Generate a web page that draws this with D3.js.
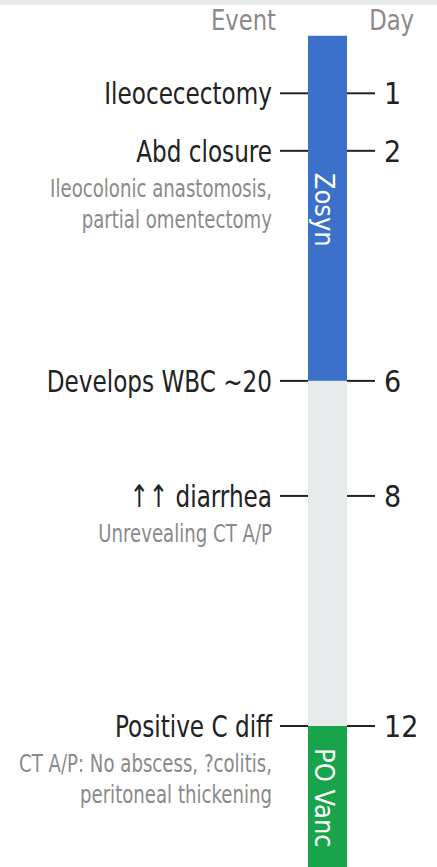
<!DOCTYPE html>
<html>
<head>
  <meta charset="utf-8">
  <script src="https://d3js.org/d3.v7.min.js"></script>
  <style>
    body { margin: 0; background: #fff; }
    svg { display: block; }
    text {
      font-family: "Liberation Sans Narrow", "DejaVu Sans Condensed", "Roboto", sans-serif;
    }
    .event { font-size: 31px; fill: #222; }
    .note  { font-size: 24px; fill: #8a8a8a; }
    .head  { font-size: 29px; fill: #8a8a8a; }
    .day   { font-size: 30px; fill: #222; }
    .tick  { stroke: #222; stroke-width: 2px; }
    .drug  { font-size: 27px; fill: #fff; }
  </style>
</head>
<body>
<div id="chart"></div>
<script>
// timeline data
var days = [1, 2, 6, 8, 12];
var events = ["Ileocecectomy", "Abd closure", "Develops WBC ~20", "\u2191\u2191 diarrhea", "Positive C diff"];
var notes = [
  [],
  ["Ileocolonic anastomosis,", "partial omentectomy"],
  [],
  ["Unrevealing CT A/P"],
  ["CT A/P: No abscess, ?colitis,", "peritoneal thickening"]
];

// treatment periods (day ranges)
var drugNames = ["Zosyn", "", "PO Vanc"];
var drugStart = [0, 6, 12];
var drugEnd   = [6, 12, 15];
var drugLabelDay = [2, null, 12];
var drugColors = ["#3b70cb", "#e8ebec", "#18a44b"];

var width = 437, height = 867;
var barX = 308, barW = 39;

// no narrow font installed, so squeeze text horizontally
function squeeze(x, yy, k) {
  return "translate(" + x + "," + yy + ") scale(" + k + ",1)";
}

var svg = d3.select("#chart").append("svg")
    .attr("width", width)
    .attr("height", height);

// thin band on top
svg.append("rect")
    .attr("x", 0).attr("y", 0)
    .attr("width", width).attr("height", 5)
    .attr("fill", "#e8ebec");

var y = d3.scaleLinear()
    .domain([1, 12])
    .range([93.3, 726]);

// headers
svg.append("text").attr("class", "head")
    .attr("transform", squeeze(276, 30, 0.87))
    .attr("text-anchor", "end")
    .text("Event");
svg.append("text").attr("class", "head")
    .attr("transform", squeeze(414, 30, 0.87))
    .attr("text-anchor", "end")
    .text("Day");

// treatment bar segments
svg.selectAll("rect.seg")
    .data(drugNames)
  .enter().append("rect")
    .attr("class", "seg")
    .attr("x", barX)
    .attr("width", barW)
    .attr("y", function(d, i) { return y(drugStart[i]); })
    .attr("height", function(d, i) { return y(drugEnd[i]) - y(drugStart[i]); })
    .attr("fill", function(d, i) { return drugColors[i]; });

// rotated drug labels
svg.selectAll("text.drug")
    .data(drugNames.filter(function(d) { return d; }))
  .enter().append("text")
    .attr("class", "drug")
    .attr("transform", function(d) {
      var i = drugNames.indexOf(d);
      return "translate(" + (barX + 7) + "," + (y(drugLabelDay[i]) + 22) + ") rotate(90)";
    })
    .text(function(d) { return d; });

// ticks + labels
var g = svg.selectAll("g.ev")
    .data(days)
  .enter().append("g")
    .attr("class", "ev")
    .attr("transform", function(d) { return "translate(0," + y(d) + ")"; });

g.append("line").attr("class", "tick")
    .attr("x1", 280).attr("x2", barX);
g.append("line").attr("class", "tick")
    .attr("x1", barX + barW).attr("x2", 375);

g.append("text").attr("class", "event")
    .attr("transform", squeeze(272, 0, 0.83))
    .attr("dy", "0.36em")
    .attr("text-anchor", "end")
    .text(function(d, i) { return events[i]; });

g.append("text").attr("class", "day")
    .attr("x", 384)
    .attr("dy", "0.36em")
    .text(function(d) { return d; });

g.each(function(d, i) {
  d3.select(this).selectAll("text.note")
      .data(notes[i])
    .enter().append("text")
      .attr("class", "note")
      .attr("transform", function(t, j) { return squeeze(272, 46 + j * 31, 0.84); })
      .attr("text-anchor", "end")
      .text(function(t) { return t; });
});
</script>
</body>
</html>
